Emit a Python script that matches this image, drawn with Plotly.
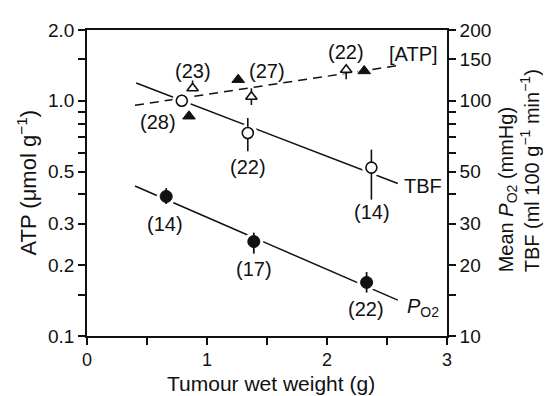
import math
import plotly.graph_objects as go

# ---------------- data ----------------
# TBF (open circles, right axis, ml 100 g-1 min-1)
tbf_x = [0.79, 1.34, 2.37]
tbf_y = [100, 73, 52]
tbf_err_plus = [6, 11.5, 10]
tbf_err_minus = [6, 12, 14]
tbf_n = ["(28)", "(22)", "(14)"]
tbf_fit_x = [0.41, 2.59]
tbf_fit_y = [119, 44.5]

# ATP (triangles, left axis, umol g-1)
atp_open_x = [0.88, 1.37, 2.16]
atp_open_y = [1.13, 1.04, 1.355]
atp_open_plus = [0.09, 0.09, 0.05]
atp_open_minus = [0.0, 0.08, 0.12]
atp_fill_x = [0.85, 1.26, 2.31]
atp_fill_y = [0.86, 1.23, 1.34]
atp_n = ["(23)", "(27)", "(22)"]
atp_fit_x = [0.40, 2.58]
atp_fit_y = [0.957, 1.41]

# Mean PO2 (filled circles, right axis, mmHg)
po2_x = [0.66, 1.39, 2.33]
po2_y = [39.2, 25.2, 16.9]
po2_err_plus = [3.3, 2.3, 1.8]
po2_err_minus = [2.8, 2.8, 1.6]
po2_n = ["(14)", "(17)", "(22)"]
po2_fit_x = [0.40, 2.59]
po2_fit_y = [43.4, 14.2]

# axes
x_ticks = [0, 1, 2, 3]
x_minor = [0.5, 1.5, 2.5]
left_ticks = [0.1, 0.2, 0.3, 0.5, 1.0, 2.0]
left_ticktext = ["0.1", "0.2", "0.3", "0.5", "1.0", "2.0"]
left_minor = [0.15, 0.4, 0.6, 0.7, 0.8, 0.9, 1.5]
right_ticks = [10, 20, 30, 50, 100, 150, 200]
right_minor = [15, 40, 60, 70, 80, 90]

FONT = "Liberation Sans, Arial, sans-serif"
BLACK = "#111111"

fig = go.Figure()

# fitted lines
fig.add_trace(go.Scatter(x=tbf_fit_x, y=tbf_fit_y, yaxis="y2", mode="lines",
                         line=dict(color=BLACK, width=1.5), showlegend=False, hoverinfo="skip"))
fig.add_trace(go.Scatter(x=po2_fit_x, y=po2_fit_y, yaxis="y2", mode="lines",
                         line=dict(color=BLACK, width=1.5), showlegend=False, hoverinfo="skip"))
fig.add_trace(go.Scatter(x=atp_fit_x, y=atp_fit_y, yaxis="y", mode="lines",
                         line=dict(color=BLACK, width=1.5, dash="9px,6px"), showlegend=False, hoverinfo="skip"))

# white halos (gaps of lines around markers)
halo = dict(color="white", size=19, line=dict(width=0))
fig.add_trace(go.Scatter(x=tbf_x, y=tbf_y, yaxis="y2", mode="markers", marker=halo,
                         showlegend=False, hoverinfo="skip"))
fig.add_trace(go.Scatter(x=po2_x, y=po2_y, yaxis="y2", mode="markers", marker=halo,
                         showlegend=False, hoverinfo="skip"))
fig.add_trace(go.Scatter(x=atp_open_x + atp_fill_x, y=atp_open_y + atp_fill_y, yaxis="y",
                         mode="markers", marker=dict(color="white", size=15, symbol="triangle-up"),
                         showlegend=False, hoverinfo="skip"))

# data markers
fig.add_trace(go.Scatter(
    x=tbf_x, y=tbf_y, yaxis="y2", mode="markers", name="TBF",
    marker=dict(symbol="circle", size=11, color="white", line=dict(color=BLACK, width=1.6)),
    error_y=dict(type="data", array=tbf_err_plus, arrayminus=tbf_err_minus,
                 color=BLACK, thickness=1.6, width=0),
    showlegend=False))
fig.add_trace(go.Scatter(
    x=po2_x, y=po2_y, yaxis="y2", mode="markers", name="PO2",
    marker=dict(symbol="circle", size=12, color=BLACK, line=dict(color=BLACK, width=1)),
    error_y=dict(type="data", array=po2_err_plus, arrayminus=po2_err_minus,
                 color=BLACK, thickness=1.8, width=0),
    showlegend=False))
fig.add_trace(go.Scatter(
    x=atp_open_x, y=atp_open_y, yaxis="y", mode="markers", name="ATP",
    marker=dict(symbol="triangle-up", size=10, color="white", line=dict(color=BLACK, width=1.6)),
    error_y=dict(type="data", array=atp_open_plus, arrayminus=atp_open_minus,
                 color=BLACK, thickness=1.6, width=0),
    showlegend=False))
fig.add_trace(go.Scatter(
    x=atp_fill_x, y=atp_fill_y, yaxis="y", mode="markers", name="ATP2",
    marker=dict(symbol="triangle-up", size=11, color=BLACK, line=dict(color=BLACK, width=1)),
    showlegend=False))

# ---------------- annotations ----------------
ann = []
def lab(text, x, ylog, size=20, **kw):
    d = dict(text=text, x=x, y=ylog, xref="x", yref="y", showarrow=False,
             font=dict(family=FONT, size=size, color=BLACK))
    d.update(kw)
    ann.append(d)

lab(atp_n[0], 0.883, 0.126)
lab(atp_n[1], 1.50, 0.126)
lab(atp_n[2], 2.16, 0.2096)
lab(tbf_n[0], 0.59, -0.090)
lab(tbf_n[1], 1.34, -0.281)
lab(tbf_n[2], 2.375, -0.472)
lab(po2_n[0], 0.65, -0.522)
lab(po2_n[1], 1.39, -0.713)
lab(po2_n[2], 2.325, -0.884)
lab("[ATP]", 2.72, 0.197)
lab("TBF", 2.80, -0.364)
lab("<i>P</i><sub>O2</sub>", 2.80, -0.880)

# axis titles
ann.append(dict(text="Tumour wet weight (g)", x=0.511, y=-0.11, xref="paper", yref="paper",
                showarrow=False, xanchor="center", yanchor="top",
                font=dict(family=FONT, size=21, color=BLACK)))
ann.append(dict(text="ATP (\u03bcmol g<sup>\u22121</sup>)", x=-0.168, y=0.5, xref="paper", yref="paper",
                showarrow=False, textangle=-90, xanchor="center", yanchor="middle",
                font=dict(family=FONT, size=22, color=BLACK)))
ann.append(dict(text="Mean <i>P</i><sub>O2</sub> (mmHg)<br>TBF (ml 100 g<sup>\u22121</sup> min<sup>\u22121</sup>)",
                x=1.2, y=0.2, xref="paper", yref="paper", align="left",
                showarrow=False, textangle=-90, xanchor="center", yanchor="bottom",
                font=dict(family=FONT, size=20, color=BLACK)))

axis_common = dict(showline=True, linecolor=BLACK, linewidth=1.6, ticks="outside",
                   ticklen=7, tickwidth=1.6, tickcolor=BLACK, showgrid=False, zeroline=False,
                   tickfont=dict(family=FONT, size=19, color=BLACK))

# page body has an 8px margin, so the figure is 8px smaller and margins shifted
fig.update_layout(
    width=543, height=388,
    margin=dict(l=79, r=104, t=15, b=60),
    plot_bgcolor="white", paper_bgcolor="white",
    showlegend=False,
    xaxis=dict(range=[0, 3], tickmode="array", tickvals=x_ticks, mirror=True,
               minor=dict(tickmode="array", tickvals=x_minor, ticks="outside", ticklen=7,
                          tickwidth=1.6, tickcolor=BLACK),
               **{**axis_common, "tickfont": dict(family=FONT, size=18, color=BLACK)}),
    yaxis=dict(type="log", range=[-1, math.log10(2.0)], tickmode="array",
               tickvals=left_ticks, ticktext=left_ticktext,
               minor=dict(tickmode="array", tickvals=left_minor, ticks="outside", ticklen=7,
                          tickwidth=1.6, tickcolor=BLACK),
               **axis_common),
    yaxis2=dict(type="log", range=[1, math.log10(200)], overlaying="y", side="right",
                tickmode="array", tickvals=right_ticks, ticktext=[str(v) for v in right_ticks],
                minor=dict(tickmode="array", tickvals=right_minor, ticks="outside", ticklen=7,
                           tickwidth=1.6, tickcolor=BLACK),
                **axis_common),
    annotations=ann,
)

fig.write_html("out.html")
